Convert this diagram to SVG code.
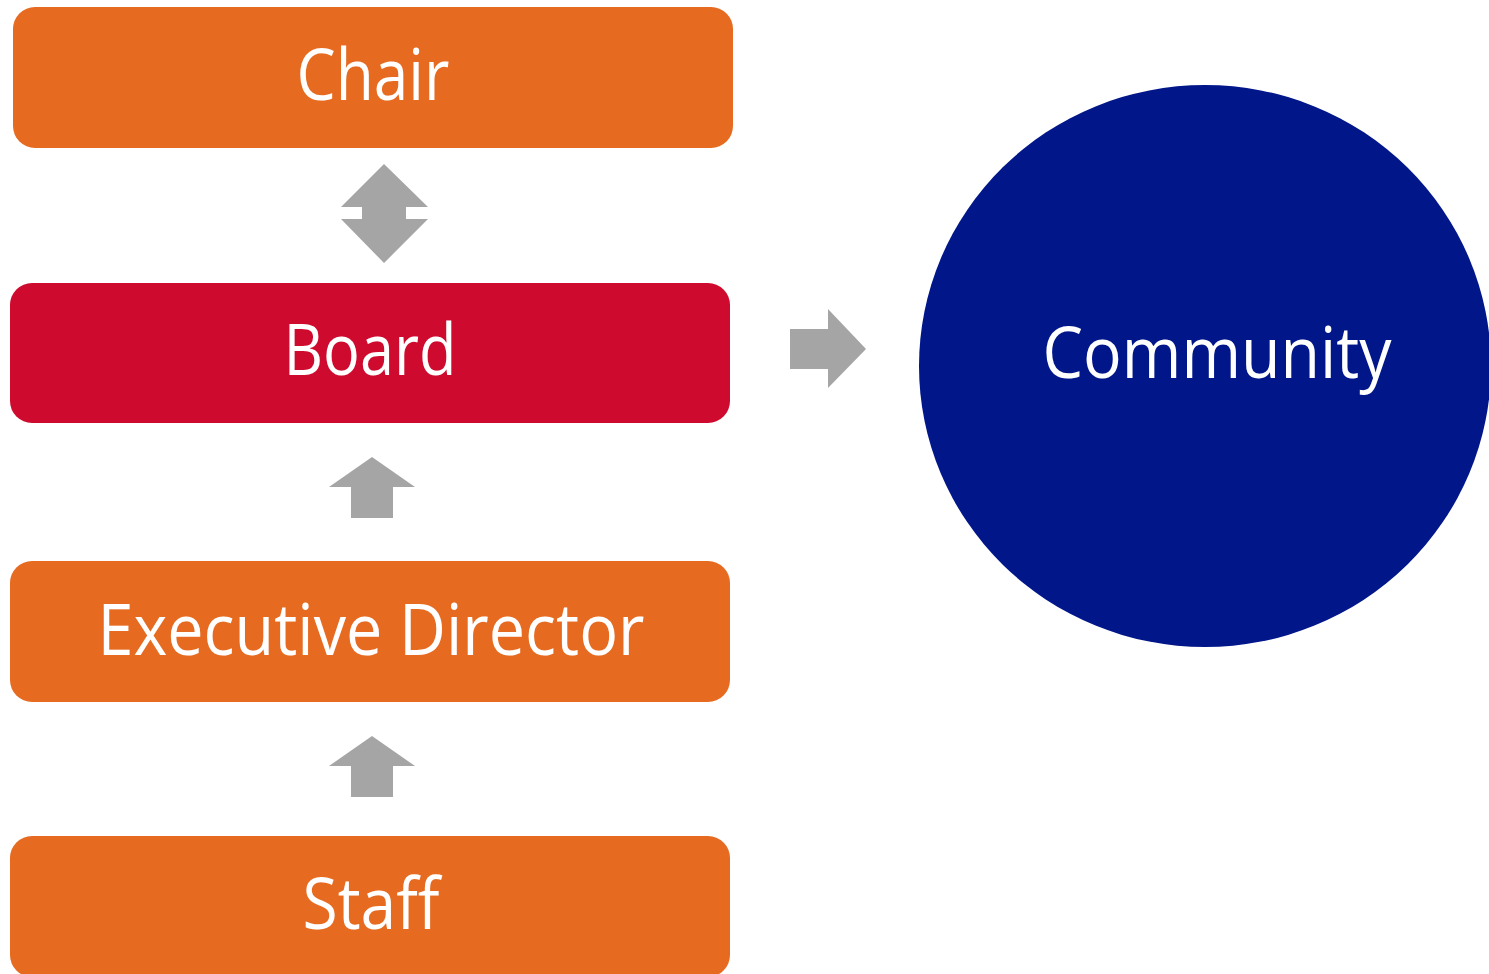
<svg xmlns="http://www.w3.org/2000/svg" width="1489" height="974" viewBox="0 0 1489 974">
<style>
.org{fill:#E66B21}
.red{fill:#CE0A2E}
.arr{fill:#A5A5A5}
.t{fill:#FFFFFF;font-family:"Open Sans","Liberation Sans",sans-serif;font-size:71px;text-anchor:middle}
</style>
<rect width="1489" height="974" fill="#FFFFFF"/>
<g id="connectors">
<polygon class="arr" points="384,164 428,207 406,207 406,219 428,219 384,263 341,219 362,219 362,207 341,207"/>
<polygon class="arr" points="790,329 828,329 828,309 866,349 828,388 828,369 790,369"/>
<polygon class="arr" points="372,457 415,487 393,487 393,518 351,518 351,487 329,487"/>
<polygon class="arr" points="372,736 415,766 393,766 393,797 351,797 351,766 329,766"/>
</g>
<g id="chair">
<rect class="org" x="13" y="7" width="720" height="141" rx="22"/>
<text class="t" x="373" y="100" textLength="153" lengthAdjust="spacingAndGlyphs">Chair</text>
</g>
<g id="board">
<rect class="red" x="10" y="283" width="720" height="140" rx="22"/>
<text class="t" x="370" y="375" textLength="173" lengthAdjust="spacingAndGlyphs">Board</text>
</g>
<g id="executive-director">
<rect class="org" x="10" y="561" width="720" height="141" rx="22"/>
<text class="t" x="371" y="655" textLength="547" lengthAdjust="spacingAndGlyphs">Executive Director</text>
</g>
<g id="staff">
<rect class="org" x="10" y="836" width="720" height="141" rx="22"/>
<text class="t" x="371" y="929" textLength="137" lengthAdjust="spacingAndGlyphs">Staff</text>
</g>
<g id="community">
<ellipse cx="1205" cy="366" rx="286" ry="281" fill="#001689"/>
<text class="t" x="1217" y="378" textLength="349" lengthAdjust="spacingAndGlyphs">Community</text>
</g>
</svg>
